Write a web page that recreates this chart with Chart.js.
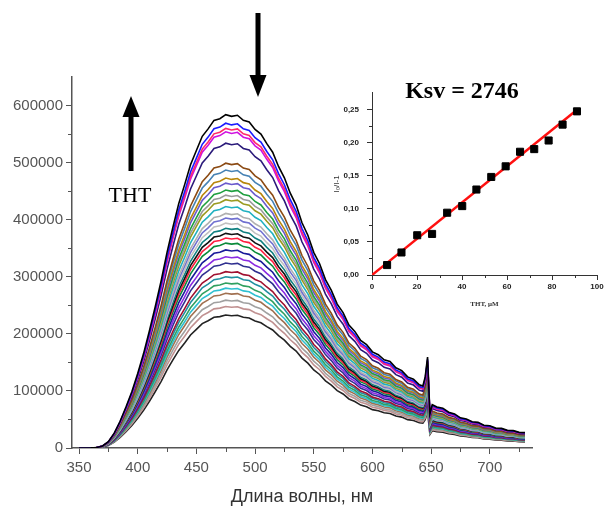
<!DOCTYPE html>
<html>
<head>
<meta charset="utf-8">
<script src="https://cdn.jsdelivr.net/npm/chart.js@4/dist/chart.umd.min.js"></script>
<style>
    body { margin: 0; background: #fff; }
    #wrap { position: relative; width: 611px; height: 506px; }
    #main { position: absolute; left: 0; top: 0; }
    #inset { position: absolute; left: 320px; top: 80px; }
</style>
</head>
<body>
<div id="wrap">
    <canvas id="main" width="611" height="506"></canvas>
    <canvas id="inset" width="291" height="230"></canvas>
</div>
<script>
// emission spectra, wavelength in nm
const wavelength = [350, 355, 360, 365, 370, 375, 380, 385, 390, 395, 400, 405, 410, 415, 420, 425, 430, 435, 440, 445,
    450, 455, 460, 465, 470, 475, 480, 485, 490, 495, 500, 505, 510, 515, 520, 525, 530, 535, 540, 545,
    550, 555, 560, 565, 570, 575, 580, 585, 590, 595, 600, 605, 610, 615, 620, 625, 630, 635, 640, 643,
    645, 647, 648, 649, 651, 655, 660, 665, 670, 675, 680, 685, 690, 695, 700, 705, 710, 715, 720, 725, 730];

// shape of the topmost spectrum (counts)
const spectrumShape = [0, 0, 200, 900, 3500, 11000, 26000, 47000, 72000, 99000, 131000, 166000, 206000, 249000, 294000, 344000, 388000, 430000, 463000, 498000,
    523000, 548000, 561000, 576000, 579000, 586000, 583000, 585000, 576000, 573000, 560000, 552000, 535000, 520000, 495000, 475000, 448000, 427000, 396000, 374000,
    344000, 324000, 296000, 277000, 253000, 238000, 216000, 205000, 189000, 182000, 169000, 164000, 155000, 152000, 141000, 136000, 125000, 121000, 111000, 109000,
    125000, 160000, 110000, 60000, 76000, 72000, 70000, 63000, 60000, 53000, 51000, 46000, 45000, 40000, 39000, 35000, 34500, 31000, 30500, 27500, 27000];

// peak intensity of every spectrum, top to bottom
const peakCounts = [584000, 569000, 560000, 554000, 534000, 499000, 487000, 473000, 464000, 452000, 443000,
    435000, 423000, 411000, 403000, 394000, 385000, 376000, 368000, 359000, 347000, 335000,
    324000, 309000, 300000, 289000, 280000, 271000, 259000, 248000, 233000];

const curveColors = ['#000000', '#1a1aff', '#ff2a6a', '#d010e0', '#2a1a7a', '#8b4a13', '#4682b4', '#b8860b',
    '#6a5acd', '#20a040', '#9a9a9a', '#9a9a20', '#20b0c0', '#b0b0b0', '#7070d0', '#c0c0c0',
    '#108080', '#111111', '#ff2040', '#0a8a3a', '#1a1a9a', '#8a2be2', '#303090', '#a01030',
    '#2090a0', '#30a060', '#30c0d0', '#a07050', '#a0a0a0', '#c09090', '#222222'];

const xTicks = [350, 400, 450, 500, 550, 600, 650, 700];
const xMinorTicks = [375, 425, 475, 525, 575, 625, 675, 725];
const yTicks = [0, 100000, 200000, 300000, 400000, 500000, 600000];
const yMinorTicks = [50000, 150000, 250000, 350000, 450000, 550000];

// inset: Stern-Volmer plot
const thtConc = [6.7, 13.1, 20.1, 26.7, 33.4, 40.1, 46.4, 53.0, 59.4, 65.8, 72.1, 78.5, 84.7, 91.1];
const quenchRatio = [0.015, 0.034, 0.060, 0.062, 0.094, 0.104, 0.129, 0.148, 0.164, 0.186, 0.190, 0.203, 0.227, 0.247];
const fitConc = [0, 91];
const fitRatio = [0, 0.249];
const insetXTicks = [0, 20, 40, 60, 80, 100];
const insetXMinor = [10, 30, 50, 70, 90];
const insetYTicks = [0, 0.05, 0.10, 0.15, 0.20, 0.25];
const insetYMinor = [0.025, 0.075, 0.125, 0.175, 0.225];

const minorTicks = {
    id: 'minorTicks',
    afterDraw(chart, args, opts) {
        const { ctx } = chart;
        const xs = chart.scales.x, ys = chart.scales.y;
        ctx.save();
        ctx.strokeStyle = opts.color;
        ctx.lineWidth = opts.width;
        ctx.beginPath();
        opts.x.forEach(v => {
            const p = Math.round(xs.getPixelForValue(v)) + 0.5;
            ctx.moveTo(p, xs.top);
            ctx.lineTo(p, xs.top + opts.len);
        });
        opts.y.forEach(v => {
            const p = Math.round(ys.getPixelForValue(v)) + 0.5;
            ctx.moveTo(ys.right, p);
            ctx.lineTo(ys.right - opts.len, p);
        });
        ctx.stroke();
        ctx.restore();
    }
};

function arrow(ctx, x, yTail, yTip, headLen, headW, shaftW) {
    const dir = yTip < yTail ? -1 : 1;
    const base = yTip - dir * headLen;
    ctx.fillRect(x - shaftW / 2, Math.min(yTail, base), shaftW, Math.abs(base - yTail));
    ctx.beginPath();
    ctx.moveTo(x, yTip);
    ctx.lineTo(x - headW / 2, base);
    ctx.lineTo(x + headW / 2, base);
    ctx.closePath();
    ctx.fill();
}

const annotations = {
    id: 'annotations',
    afterDraw(chart) {
        const { ctx } = chart;
        ctx.save();
        ctx.fillStyle = '#000';
        arrow(ctx, 131, 171, 96, 21, 17, 5);
        arrow(ctx, 258, 13, 97, 22, 17, 5);
        ctx.font = '22px "Liberation Serif", serif';
        ctx.textAlign = 'center';
        ctx.textBaseline = 'middle';
        ctx.fillText('THT', 130, 196);
        ctx.font = 'bold 24px "Liberation Serif", serif';
        ctx.fillText('Ksv = 2746', 462, 92);
        ctx.restore();
    }
};

const spectra = peakCounts.map((peak, i) => ({
    data: wavelength.map((w, j) => ({ x: w, y: spectrumShape[j] * peak / 586000 })),
    borderColor: curveColors[i],
    borderWidth: 1.6,
    pointRadius: 0,
    tension: 0
}));

new Chart(document.getElementById('main'), {
    type: 'line',
    data: { datasets: spectra },
    plugins: [minorTicks, annotations],
    options: {
        responsive: false,
        animation: false,
        layout: { padding: { left: 0, right: 79, top: 77, bottom: 0 } },
        plugins: {
            legend: { display: false },
            tooltip: { enabled: false },
            minorTicks: { x: xMinorTicks, y: yMinorTicks, len: 4, color: '#555', width: 1 }
        },
        scales: {
            x: {
                type: 'linear',
                min: 344,
                max: 736,
                afterBuildTicks: s => { s.ticks = xTicks.map(v => ({ value: v })); },
                afterFit: s => { s.height = 58; },
                grid: { drawOnChartArea: false, tickLength: 6, tickColor: '#555', tickWidth: 1 },
                border: { color: '#555', width: 1.5 },
                ticks: { color: '#555', padding: 5, maxRotation: 0, font: { family: 'Liberation Sans, Arial', size: 15 } },
                title: {
                    display: true, text: 'Длина волны, нм', color: '#333',
                    font: { family: 'Liberation Sans, Arial', size: 18, lineHeight: 1 },
                    padding: 0
                }
            },
            y: {
                min: 0,
                max: 650000,
                afterBuildTicks: s => { s.ticks = yTicks.map(v => ({ value: v })); },
                afterFit: s => { s.width = 72; },
                grid: { drawOnChartArea: false, tickLength: 6, tickColor: '#555', tickWidth: 1 },
                border: { color: '#555', width: 1.5 },
                ticks: {
                    color: '#555', padding: 3,
                    font: { family: 'Liberation Sans, Arial', size: 15 },
                    callback: v => String(v)
                }
            }
        }
    }
});

new Chart(document.getElementById('inset'), {
    type: 'scatter',
    data: {
        datasets: [
            {
                type: 'line',
                data: fitConc.map((c, i) => ({ x: c, y: fitRatio[i] })),
                borderColor: '#ff1010',
                borderWidth: 2.5,
                pointRadius: 0,
                order: 2
            },
            {
                data: thtConc.map((c, i) => ({ x: c, y: quenchRatio[i] })),
                pointStyle: 'rect',
                pointRadius: 5,
                backgroundColor: '#000',
                borderColor: '#000',
                order: 1
            }
        ]
    },
    plugins: [minorTicks],
    options: {
        responsive: false,
        animation: false,
        layout: { padding: { left: 0, right: 14, top: 10, bottom: 0 } },
        plugins: {
            legend: { display: false },
            tooltip: { enabled: false },
            minorTicks: { x: insetXMinor, y: insetYMinor, len: 3, color: '#333', width: 1 }
        },
        scales: {
            x: {
                type: 'linear',
                min: 0,
                max: 100,
                afterBuildTicks: s => { s.ticks = insetXTicks.map(v => ({ value: v })); },
                afterFit: s => { s.height = 35; },
                grid: { drawOnChartArea: false, tickLength: 5, tickColor: '#333' },
                border: { color: '#333', width: 1 },
                ticks: { color: '#222', padding: 2, maxRotation: 0, font: { family: 'Liberation Sans, Arial', size: 8, weight: 'bold' } },
                title: {
                    display: true, text: 'THT, μM', color: '#333',
                    font: { family: 'Liberation Serif, serif', size: 7, weight: 'bold', lineHeight: 1 },
                    padding: { top: 0, bottom: 2.5 }
                }
            },
            y: {
                min: 0,
                max: 0.275,
                afterBuildTicks: s => { s.ticks = insetYTicks.map(v => ({ value: v })); },
                afterFit: s => { s.width = 52; },
                grid: { drawOnChartArea: false, tickLength: 5, tickColor: '#333' },
                border: { color: '#333', width: 1 },
                ticks: {
                    color: '#222', padding: 8,
                    font: { family: 'Liberation Sans, Arial', size: 8, weight: 'bold' },
                    callback: v => v.toFixed(2).replace('.', ',')
                },
                title: {
                    display: true, text: 'I₀/I-1', color: '#333',
                    font: { family: 'Liberation Sans, Arial', size: 8, lineHeight: 1 },
                    padding: { top: 13, bottom: 0 }
                }
            }
        }
    }
});
</script>
</body>
</html>
